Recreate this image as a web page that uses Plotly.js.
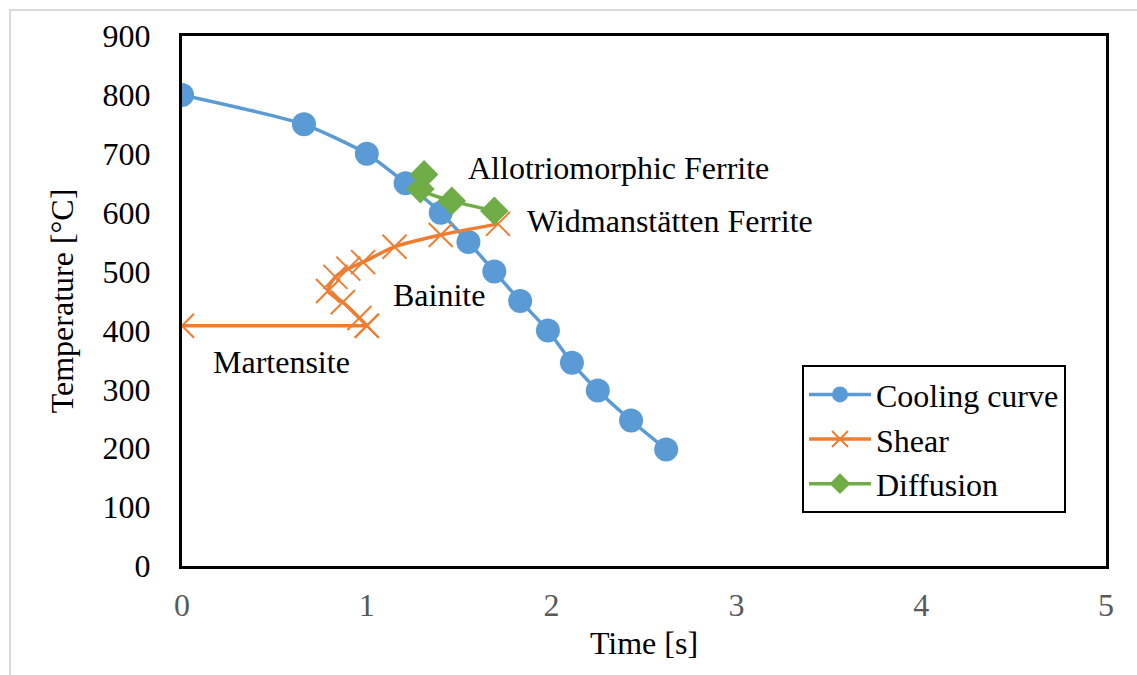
<!DOCTYPE html>
<html>
<head>
<meta charset="utf-8">
<script src="https://cdn.plot.ly/plotly-3.0.1.min.js"></script>
<style>
  html, body { margin: 0; padding: 0; background: #fff; }
  #frame { position: absolute; left: 9px; top: 9px; width: 1140px; height: 680px; border-left: 2px solid #d9d9d9; border-top: 2px solid #d9d9d9; pointer-events: none; }
  #chart { position: absolute; left: 0; top: 0; width: 1137px; height: 675px; }
</style>
</head>
<body>
<div id="chart"></div>
<div id="frame"></div>
<script>
// Cooling curve
const coolingTime = [0, 0.66, 1.0, 1.21, 1.40, 1.55, 1.69, 1.83, 1.98, 2.11, 2.25, 2.43, 2.62];
const coolingTemp = [800, 750, 700, 650, 600, 550, 500, 450, 400, 345, 298, 247, 198];

// Shear: martensite start line
const shearLineTime = [0, 1.0];
const shearLineTemp = [408, 408];

// Shear: bainite / Widmanstätten curve
const shearCurveTime = [1.0, 0.96, 0.87, 0.79, 0.83, 0.90, 0.98, 1.15, 1.40, 1.71];
const shearCurveTemp = [408, 421, 448, 467, 491, 505, 516, 542, 562, 581];

// Diffusion transformation line
const diffTime = [1.31, 1.29, 1.46, 1.69];
const diffTemp = [665, 640, 620, 603];

// Region labels
const labelText = ["Allotriomorphic Ferrite", "Widmanstätten Ferrite", "Bainite", "Martensite"];
const labelTime = [2.36, 2.64, 1.39, 0.54];
const labelTemp = [676, 586, 460, 346];

const FONT = "'Liberation Serif', 'Times New Roman', serif";
const FS = 32;
const ORANGE = "#ED7D31";

const shearMarker = { symbol: "x-thin-open", size: 24, color: ORANGE, line: { color: ORANGE, width: 2 } };

const traces = [
  {
    x: coolingTime, y: coolingTemp, name: "Cooling curve", type: "scatter", mode: "lines+markers",
    line: { color: "#5B9BD5", width: 3.5, shape: "spline", smoothing: 0.6 },
    marker: { symbol: "circle", size: 24, color: "#5B9BD5" }
  },
  {
    x: shearLineTime, y: shearLineTemp, name: "Shear", legendgroup: "shear", type: "scatter", mode: "lines+markers",
    line: { color: ORANGE, width: 3.5 },
    marker: shearMarker
  },
  {
    x: shearCurveTime, y: shearCurveTemp, name: "Shear", legendgroup: "shear", showlegend: false, type: "scatter", mode: "lines+markers",
    line: { color: ORANGE, width: 3.5, shape: "spline", smoothing: 0.8 },
    marker: shearMarker
  },
  {
    x: diffTime, y: diffTemp, name: "Diffusion", type: "scatter", mode: "lines+markers",
    line: { color: "#70AD47", width: 3.5, shape: "spline", smoothing: 0.6 },
    marker: { symbol: "diamond", size: 22, color: "#70AD47" }
  }
];

const annotations = labelText.map((t, i) => ({
  x: labelTime[i], y: labelTemp[i], xref: "x", yref: "y", text: t, showarrow: false,
  font: { family: FONT, size: FS, color: "#000" }, xanchor: "center", yanchor: "middle"
}));

const layout = {
  width: 1137, height: 675,
  margin: { l: 182, r: 31, t: 36, b: 109 },
  paper_bgcolor: "rgba(0,0,0,0)", plot_bgcolor: "#fff",
  font: { family: FONT, size: FS, color: "#000" },
  showlegend: true,
  legend: {
    x: 0.671, y: 0.379, xanchor: "left", yanchor: "top",
    bordercolor: "#000", borderwidth: 2, bgcolor: "#fff",
    font: { family: FONT, size: FS, color: "#000" },
    itemwidth: 62, tracegroupgap: 0
  },
  xaxis: {
    range: [0, 5], dtick: 1, tick0: 0, showgrid: false, zeroline: false,
    showline: true, linecolor: "#000", linewidth: 3, mirror: true,
    ticks: "outside", ticklen: 9, tickcolor: "rgba(0,0,0,0)",
    tickfont: { family: FONT, size: FS, color: "#595959" },
    title: { text: "Time [s]", font: { family: FONT, size: FS, color: "#000" }, standoff: 10 }
  },
  yaxis: {
    range: [0, 900], dtick: 100, tick0: 0, showgrid: false, zeroline: false,
    showline: true, linecolor: "#000", linewidth: 3, mirror: true,
    ticks: "outside", ticklen: 22, tickcolor: "rgba(0,0,0,0)",
    tickfont: { family: FONT, size: FS, color: "#000" },
    title: { text: "Temperature [°C]", font: { family: FONT, size: FS, color: "#000" }, standoff: 20 }
  },
  annotations: annotations
};

Plotly.newPlot("chart", traces, layout, { displayModeBar: false, staticPlot: true });
</script>
</body>
</html>
